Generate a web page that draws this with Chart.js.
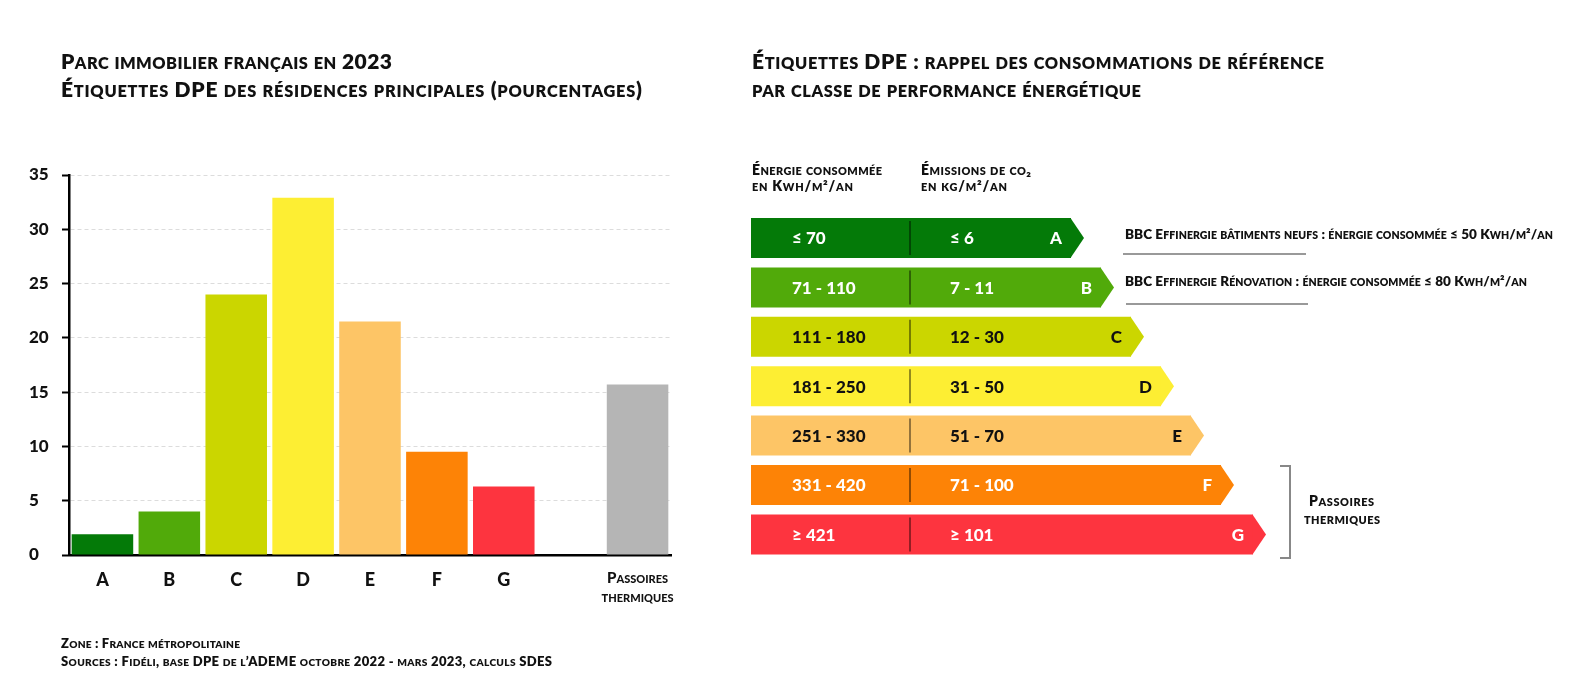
<!DOCTYPE html>
<html><head><meta charset="utf-8">
<script src="https://cdn.jsdelivr.net/npm/chart.js@4.4.0/dist/chart.umd.min.js"></script>
<style>
html,body{margin:0;padding:0;background:#fff;}
body{width:1586px;height:693px;position:relative;overflow:hidden;font-family:Lato,"Open Sans",sans-serif;font-weight:800;color:#111;}
.t{position:absolute;white-space:nowrap;line-height:1;z-index:2;}
.t .sc{font-size:0.78em;}
canvas{position:absolute;top:0;}
#left{left:0;width:700px;height:693px;}
#right{left:700px;width:886px;height:693px;}
.rule{position:absolute;background:#999;z-index:2;}
</style>
</head><body>
<canvas id="left" width="700" height="693"></canvas>
<canvas id="right" width="886" height="693"></canvas>

<div class="t" data-w="331" style="left:61px;top:50px;font-size:21px;">Parc immobilier français en 2023</div>
<div class="t" data-w="581" style="left:61px;top:78px;font-size:21px;">Étiquettes DPE des résidences principales (pourcentages)</div>
<div class="t" data-w="572" style="left:752px;top:50px;font-size:21px;">Étiquettes DPE : rappel des consommations de référence</div>
<div class="t" data-w="389" style="left:752px;top:78px;font-size:21px;">par classe de performance énergétique</div>

<div class="t" data-w="130" style="left:752px;top:163px;font-size:14px;">Énergie consommée</div>
<div class="t" data-w="101" style="left:752px;top:179px;font-size:14px;">en Kwh/m²/an</div>
<div class="t" data-w="110" style="left:921px;top:163px;font-size:14px;">Émissions de co₂</div>
<div class="t" data-w="86" style="left:921px;top:179px;font-size:14px;">en kg/m²/an</div>

<div class="t" data-w="428" style="left:1125px;top:228px;font-size:13.5px;">BBC Effinergie bâtiments neufs : énergie consommée ≤ 50 Kwh/m²/an</div>
<div class="rule" style="left:1123px;top:253px;width:183px;height:2px;"></div>
<div class="t" data-w="402" style="left:1125px;top:275px;font-size:13.5px;">BBC Effinergie Rénovation : énergie consommée ≤ 80 Kwh/m²/an</div>
<div class="rule" style="left:1126px;top:303px;width:182px;height:2px;"></div>

<div class="rule" style="left:1280px;top:465px;width:11px;height:2px;background:#888;"></div>
<div class="rule" style="left:1289px;top:465px;width:2px;height:94px;background:#888;"></div>
<div class="rule" style="left:1280px;top:557px;width:11px;height:2px;background:#888;"></div>
<div class="t" data-w="65" style="left:1309px;top:494px;font-size:14px;">Passoires</div>
<div class="t" data-w="76" style="left:1304px;top:512px;font-size:14px;">thermiques</div>

<div class="t" data-w="179" style="left:61px;top:637px;font-size:13px;">Zone : France métropolitaine</div>
<div class="t" data-w="491" style="left:61px;top:655px;font-size:13px;">Sources : Fidéli, base DPE de l’ADEME octobre 2022 - mars 2023, calculs SDES</div>

<script>
// ---- Data: left chart (share of principal residences, %) ----
const categories = ['A', 'B', 'C', 'D', 'E', 'F', 'G', '', ['Passoires', 'thermiques']];
const shares = [1.9, 4.0, 24.0, 32.9, 21.5, 9.5, 6.3, null, 15.7];
const yTicks = [0, 5, 10, 15, 20, 25, 30, 35];

// ---- Data: right chart (DPE reference labels) ----
const dpeClasses = ['A', 'B', 'C', 'D', 'E', 'F', 'G'];
const energyRanges = ['≤ 70', '71 - 110', '111 - 180', '181 - 250', '251 - 330', '331 - 420', '≥ 421'];
const co2Ranges = ['≤ 6', '7 - 11', '12 - 30', '31 - 50', '51 - 70', '71 - 100', '≥ 101'];
const arrowLength = [320, 350, 380, 410, 440, 470, 502];

// ---- Styles ----
const dpeColors = ['#047a08', '#51aa0a', '#cbd600', '#fdee33', '#fdc566', '#fd8306', '#fd343f'];
const dpeText = ['#fff', '#fff', '#111', '#111', '#111', '#fff', '#fff'];
const passoireColor = '#b5b5b5';
const FONT = 'Lato, "Open Sans", sans-serif';

// small caps: lowercase runs become reduced capitals
function smallCaps(el) {
  const txt = el.textContent;
  let html = '', run = '';
  const flush = () => { if (run) { html += '<span class="sc">' + run.toUpperCase() + '</span>'; run = ''; } };
  for (const ch of txt) {
    const isLower = ch !== ch.toUpperCase() && /\p{L}/u.test(ch);
    if (isLower) run += ch;
    else { flush(); html += ch; }
  }
  flush();
  el.innerHTML = html;
}
function fitWidths() {
  document.querySelectorAll('.t[data-w]').forEach(el => {
    el.style.letterSpacing = '0px';
    const w = el.getBoundingClientRect().width;
    const n = [...el.textContent].length;
    const target = parseFloat(el.dataset.w);
    el.style.letterSpacing = ((target - w) / Math.max(1, n - 1)) + 'px';
  });
}
document.querySelectorAll('.t').forEach(smallCaps);
fitWidths();
if (document.fonts && document.fonts.ready) document.fonts.ready.then(fitWidths);

Chart.defaults.font.family = FONT;
Chart.defaults.color = '#111';

new Chart(document.getElementById('left'), {
  type: 'bar',
  data: {
    labels: categories,
    datasets: [{
      data: shares,
      backgroundColor: [...dpeColors, 'rgba(0,0,0,0)', passoireColor],
      barPercentage: 0.92,
      categoryPercentage: 1.0,
      borderWidth: 0
    }]
  },
  options: {
    responsive: false,
    animation: false,
    layout: { padding: { left: 29, right: 29, top: 175, bottom: 78 } },
    plugins: { legend: { display: false }, tooltip: { enabled: false } },
    scales: {
      x: {
        offset: true,
        grid: { display: false, drawTicks: false },
        border: { display: true, color: '#000', width: 2.5 },
        ticks: {
          padding: 14,
          color: '#111',
          maxRotation: 0,
          minRotation: 0,
          autoSkip: false,
          font: (c) => c.index === 8
            ? { family: FONT, size: 15, weight: 'small-caps 900', lineHeight: 1.25 }
            : { family: FONT, size: 18, weight: '900', lineHeight: 1.2 }
        },
        afterFit: (s) => { s.height = 60; }
      },
      y: {
        min: 0, max: 35,
        afterBuildTicks: (s) => { s.ticks = yTicks.map(v => ({ value: v })); },
        grid: { color: '#dcdcdc', lineWidth: 1, tickLength: 7, tickColor: '#000', tickWidth: 2, tickBorderDash: [] },
        border: { display: true, color: '#000', width: 2.5, dash: [4, 3] },
        ticks: { crossAlign: 'far', color: '#111', font: { family: FONT, size: 17, weight: '900' } },
        afterFit: (s) => { s.width = 40; }
      }
    }
  }
});

const arrowPlugin = {
  id: 'dpeArrows',
  afterDatasetsDraw(chart) {
    const ctx = chart.ctx;
    const area = chart.chartArea;
    const meta = chart.getDatasetMeta(0);
    meta.data.forEach((bar, i) => {
      const p = bar.getProps(['x', 'y', 'height'], true);
      const h = p.height / 2;
      ctx.save();
      ctx.fillStyle = dpeColors[i];
      ctx.beginPath();
      ctx.moveTo(p.x - 0.5, p.y - h);
      ctx.lineTo(p.x + 13, p.y);
      ctx.lineTo(p.x - 0.5, p.y + h);
      ctx.closePath();
      ctx.fill();
      ctx.strokeStyle = 'rgba(0,0,0,0.7)';
      ctx.lineWidth = 1.2;
      ctx.beginPath();
      ctx.moveTo(area.left + 159, p.y - h + 3);
      ctx.lineTo(area.left + 159, p.y + h - 3);
      ctx.stroke();
      ctx.fillStyle = dpeText[i];
      ctx.font = '900 17px ' + FONT;
      ctx.textBaseline = 'middle';
      ctx.textAlign = 'left';
      ctx.fillText(energyRanges[i], area.left + 41, p.y + 1);
      ctx.fillText(co2Ranges[i], area.left + 199, p.y + 1);
      ctx.textAlign = 'right';
      ctx.fillText(dpeClasses[i], p.x - 9, p.y + 1);
      ctx.restore();
    });
  }
};

new Chart(document.getElementById('right'), {
  type: 'bar',
  data: {
    labels: dpeClasses,
    datasets: [{
      data: arrowLength,
      backgroundColor: dpeColors,
      barPercentage: 0.81,
      categoryPercentage: 1.0,
      borderWidth: 0
    }]
  },
  options: {
    indexAxis: 'y',
    responsive: false,
    animation: false,
    layout: { padding: { left: 51, right: 235, top: 213.3, bottom: 133.9 } },
    plugins: { legend: { display: false }, tooltip: { enabled: false } },
    scales: {
      x: { display: false, min: 0, max: 600 },
      y: { display: false }
    }
  },
  plugins: [arrowPlugin]
});
</script>
</body></html>
